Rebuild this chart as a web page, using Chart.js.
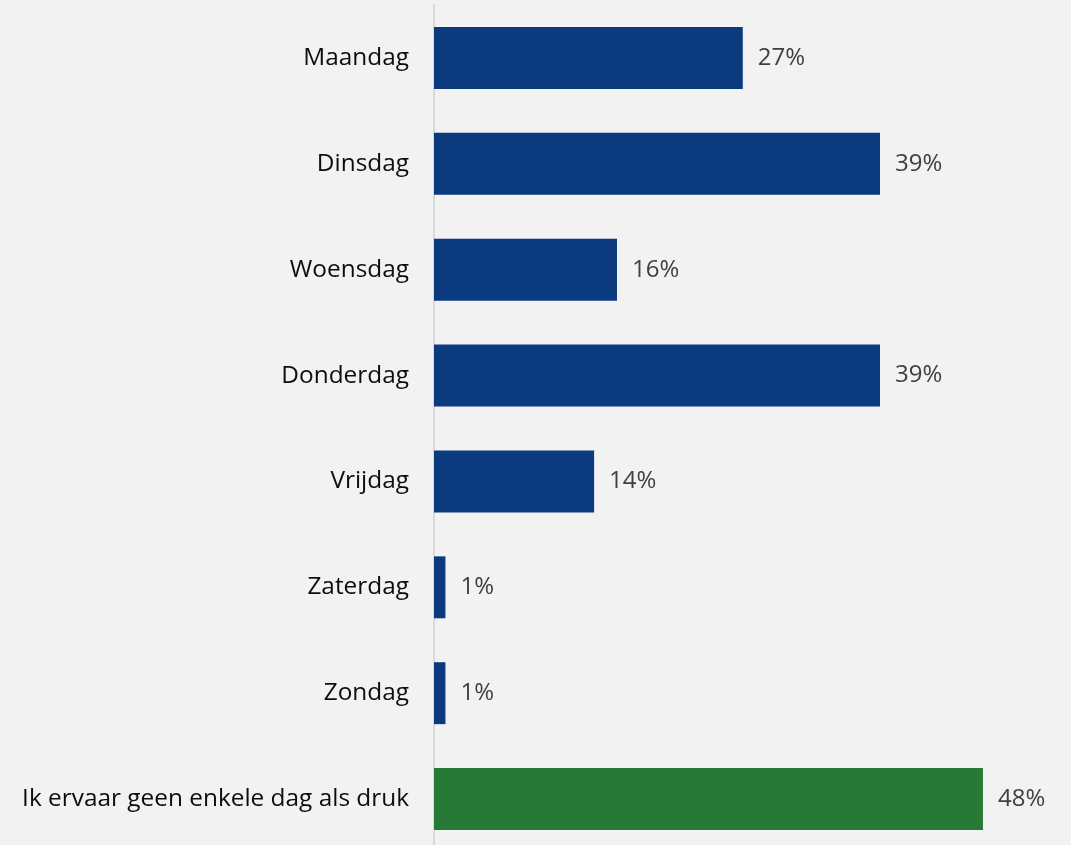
<!DOCTYPE html>
<html><head><meta charset="utf-8">
<script src="https://cdn.jsdelivr.net/npm/chart.js@4/dist/chart.umd.min.js"></script>
<style>
html,body{margin:0;padding:0;background:#f2f2f2;overflow:hidden;}
#wrap{width:1071px;height:852px;position:relative;}
</style></head><body>
<div id="wrap"><canvas id="c" width="1071" height="852"></canvas></div>
<script>
const categories = ["Maandag","Dinsdag","Woensdag","Donderdag","Vrijdag","Zaterdag","Zondag","Ik ervaar geen enkele dag als druk"];
const values = [27,39,16,39,14,1,1,48];
const barColors = ["#0b3a7e","#0b3a7e","#0b3a7e","#0b3a7e","#0b3a7e","#0b3a7e","#0b3a7e","#267a36"];

const labelPlugin = {
  id:'vals',
  afterDatasetsDraw(chart){
    const ctx = chart.ctx;
    const meta = chart.getDatasetMeta(0);
    ctx.save();
    ctx.font = '24px "Open Sans"';
    ctx.fillStyle = '#404040';
    ctx.textAlign = 'left';
    ctx.textBaseline = 'middle';
    meta.data.forEach((bar,i)=>{
      ctx.fillText(values[i]+'%', bar.x+15, bar.y);
    });
    ctx.restore();
  }
};
const bgPlugin = {
  id:'bg',
  beforeDraw(chart){
    const ctx=chart.ctx; ctx.save(); ctx.fillStyle='#f2f2f2';
    ctx.fillRect(0,0,chart.width,chart.height); ctx.restore();
  }
};

new Chart(document.getElementById('c'),{
  type:'bar',
  data:{labels:categories,datasets:[{data:values,backgroundColor:barColors,barPercentage:0.585,categoryPercentage:1.0}]},
  options:{
    indexAxis:'y',
    responsive:false,
    animation:false,
    layout:{padding:{top:5,right:8,bottom:0,left:0}},
    plugins:{legend:{display:false},tooltip:{enabled:false}},
    scales:{
      x:{min:0,max:55,display:false,grid:{display:false}},
      y:{
        afterFit(scale){scale.width=434;scale.paddingTop=0;scale.paddingBottom=0;},
        grid:{display:false,drawTicks:false},
        border:{display:true,color:'#d9d9d9',width:2},
        ticks:{color:'#0d0d0d',font:{family:'"Open Sans"',size:24.4},padding:25}
      }
    }
  },
  plugins:[bgPlugin,labelPlugin]
});
</script>
</body></html>
